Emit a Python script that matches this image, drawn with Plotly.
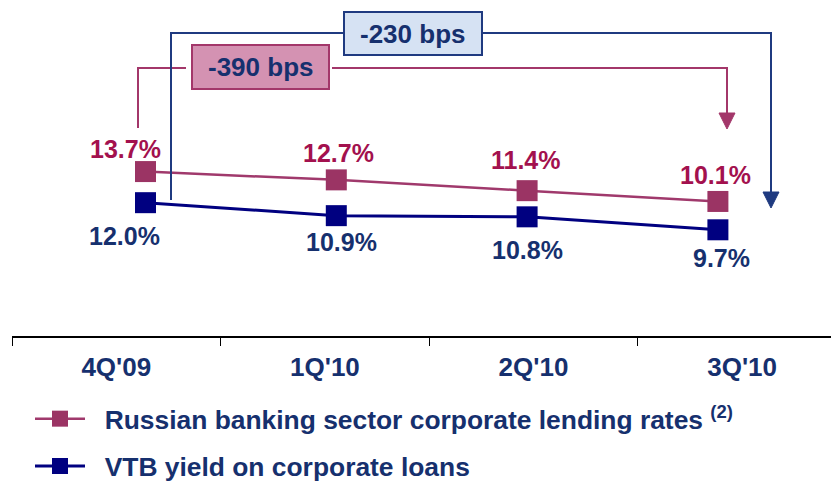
import plotly.graph_objects as go

# ---------------- data ----------------
quarters = ["4Q'09", "1Q'10", "2Q'10", "3Q'10"]
sector_rates = [13.7, 12.7, 11.4, 10.1]
vtb_yield = [12.0, 10.9, 10.8, 9.7]
sector_labels = ["13.7%", "12.7%", "11.4%", "10.1%"]
vtb_labels = ["12.0%", "10.9%", "10.8%", "9.7%"]
sector_name = "Russian banking sector corporate lending rates <sup>(2)</sup>"
vtb_name = "VTB yield on corporate loans"
sector_gap = "-390 bps"
vtb_gap = "-230 bps"

# ---------------- styles ----------------
W, H = 831, 484
FONT = "Arial, Liberation Sans, sans-serif"
NAVY_TXT = "#16306E"
RED_TXT = "#A3114E"
RED_LINE = "#A0396C"
RED_MARK = "#9B3464"
BLUE_LINE = "#000080"
BLUE_MARK = "#000080"
BR_RED = "#A3376A"
BR_BLUE = "#1F3A80"
PAD = "\u00a0\u00a0"


def px(x):
    return x / W


def py(y):
    return 1 - y / H


fig = go.Figure()

# hidden trace registering categories on the label axis
fig.add_trace(go.Scatter(x=quarters, y=[None] * len(quarters), xaxis="x", yaxis="y",
                         showlegend=False, hoverinfo="skip", mode="lines"))

fig.add_trace(go.Scatter(
    x=quarters, y=sector_rates, xaxis="x2", yaxis="y", mode="lines+markers",
    name=PAD + sector_name, legendgroup="a",
    line=dict(color=RED_LINE, width=2.5),
    marker=dict(symbol="square", size=21, color=RED_MARK, line=dict(width=0)),
))
fig.add_trace(go.Scatter(
    x=quarters, y=vtb_yield, xaxis="x2", yaxis="y2", mode="lines+markers",
    name=PAD + vtb_name, legendgroup="b",
    line=dict(color=BLUE_LINE, width=3),
    marker=dict(symbol="square", size=21, color=BLUE_MARK, line=dict(width=0)),
))

annotations = []
red_dx = [-20, 2, -1, -2]
red_dy = [23, 27, 30.5, 26.5]
blue_dx = [-21, 5, 0, 4]
blue_dy = [-33, -26.5, -33, -28]
for i, q in enumerate(quarters):
    annotations.append(dict(
        x=q, y=sector_rates[i], xref="x2", yref="y", text=sector_labels[i],
        showarrow=False, xshift=red_dx[i], yshift=red_dy[i], xanchor="center", yanchor="middle",
        font=dict(family=FONT, size=25, color=RED_TXT, weight="bold")))
    annotations.append(dict(
        x=q, y=vtb_yield[i], xref="x2", yref="y2", text=vtb_labels[i],
        showarrow=False, xshift=blue_dx[i], yshift=blue_dy[i], xanchor="center", yanchor="middle",
        font=dict(family=FONT, size=25, color=NAVY_TXT, weight="bold")))

# bracket boxes' text
annotations.append(dict(x=px(260.5), y=py(67), xref="paper", yref="paper", text=sector_gap,
                        showarrow=False, xanchor="center", yanchor="middle",
                        font=dict(family=FONT, size=26, color=NAVY_TXT, weight="bold")))
annotations.append(dict(x=px(413), y=py(33.5), xref="paper", yref="paper", text=vtb_gap,
                        showarrow=False, xanchor="center", yanchor="middle",
                        font=dict(family=FONT, size=26, color=NAVY_TXT, weight="bold")))


def path(points, close=False):
    s = ""
    for k, (x, y) in enumerate(points):
        s += ("M" if k == 0 else "L") + f"{px(x)},{py(y)} "
    if close:
        s += "Z"
    return s


shapes = []
# red bracket
shapes.append(dict(type="path", xref="paper", yref="paper",
                   path=path([(138, 128), (138, 68), (186, 68)]),
                   line=dict(color=BR_RED, width=2)))
shapes.append(dict(type="path", xref="paper", yref="paper",
                   path=path([(332, 68), (727, 68), (727, 114)]),
                   line=dict(color=BR_RED, width=2)))
shapes.append(dict(type="path", xref="paper", yref="paper",
                   path=path([(719, 113), (735, 113), (727, 129)], close=True),
                   fillcolor=BR_RED, line=dict(color=BR_RED, width=1)))
shapes.append(dict(type="rect", xref="paper", yref="paper",
                   x0=px(192), x1=px(329), y0=py(89), y1=py(45),
                   fillcolor="#D492B2", line=dict(color=BR_RED, width=2), layer="below"))
# blue bracket
shapes.append(dict(type="path", xref="paper", yref="paper",
                   path=path([(171, 200), (171, 33), (344, 33)]),
                   line=dict(color=BR_BLUE, width=2)))
shapes.append(dict(type="path", xref="paper", yref="paper",
                   path=path([(482, 33), (771, 33), (771, 193)]),
                   line=dict(color=BR_BLUE, width=2)))
shapes.append(dict(type="path", xref="paper", yref="paper",
                   path=path([(763, 192), (779, 192), (771, 208)], close=True),
                   fillcolor=BR_BLUE, line=dict(color=BR_BLUE, width=1)))
shapes.append(dict(type="rect", xref="paper", yref="paper",
                   x0=px(344), x1=px(482), y0=py(55), y1=py(12),
                   fillcolor="#D6E2F3", line=dict(color=BR_BLUE, width=2), layer="below"))

fig.update_layout(
    width=W, height=H,
    margin=dict(l=0, r=0, t=0, b=0, autoexpand=False),
    paper_bgcolor="white", plot_bgcolor="white",
    showlegend=True,
    xaxis=dict(
        type="category", categoryorder="array", categoryarray=quarters,
        domain=[px(12), 1], range=[-0.5, -0.5 + 819 / 208.6],
        anchor="free", position=py(337),
        showline=True, linecolor="black", linewidth=2,
        ticks="outside", ticklen=8, tickwidth=1, tickcolor="black",
        tickson="boundaries", showgrid=False, zeroline=False,
        tickfont=dict(family=FONT, size=26, color=NAVY_TXT, weight="bold"),
        ticklabelstandoff=7, automargin=False,
    ),
    xaxis2=dict(
        type="category", categoryorder="array", categoryarray=quarters,
        range=[(12 - 145.5) / 190.8, (831 - 145.5) / 190.8],
        overlaying="x", anchor="y", visible=False,
    ),
    yaxis=dict(domain=[0, 1], range=[-23.94, 34.37], visible=False, anchor="x2"),
    yaxis2=dict(domain=[0, 1], range=[-11.86, 29.19], visible=False,
                overlaying="y", anchor="x2"),
    legend=dict(
        x=px(30), y=py(395), xanchor="left", yanchor="top",
        traceorder="grouped", tracegroupgap=10, itemwidth=50,
        bgcolor="rgba(0,0,0,0)",
        font=dict(family=FONT, size=26.4, color=NAVY_TXT, weight="bold"),
    ),
    annotations=annotations,
    shapes=shapes,
)

fig.write_html("out.html",
               config={"displayModeBar": False},
               post_script="document.body.style.margin='0';document.body.style.overflow='hidden';")
